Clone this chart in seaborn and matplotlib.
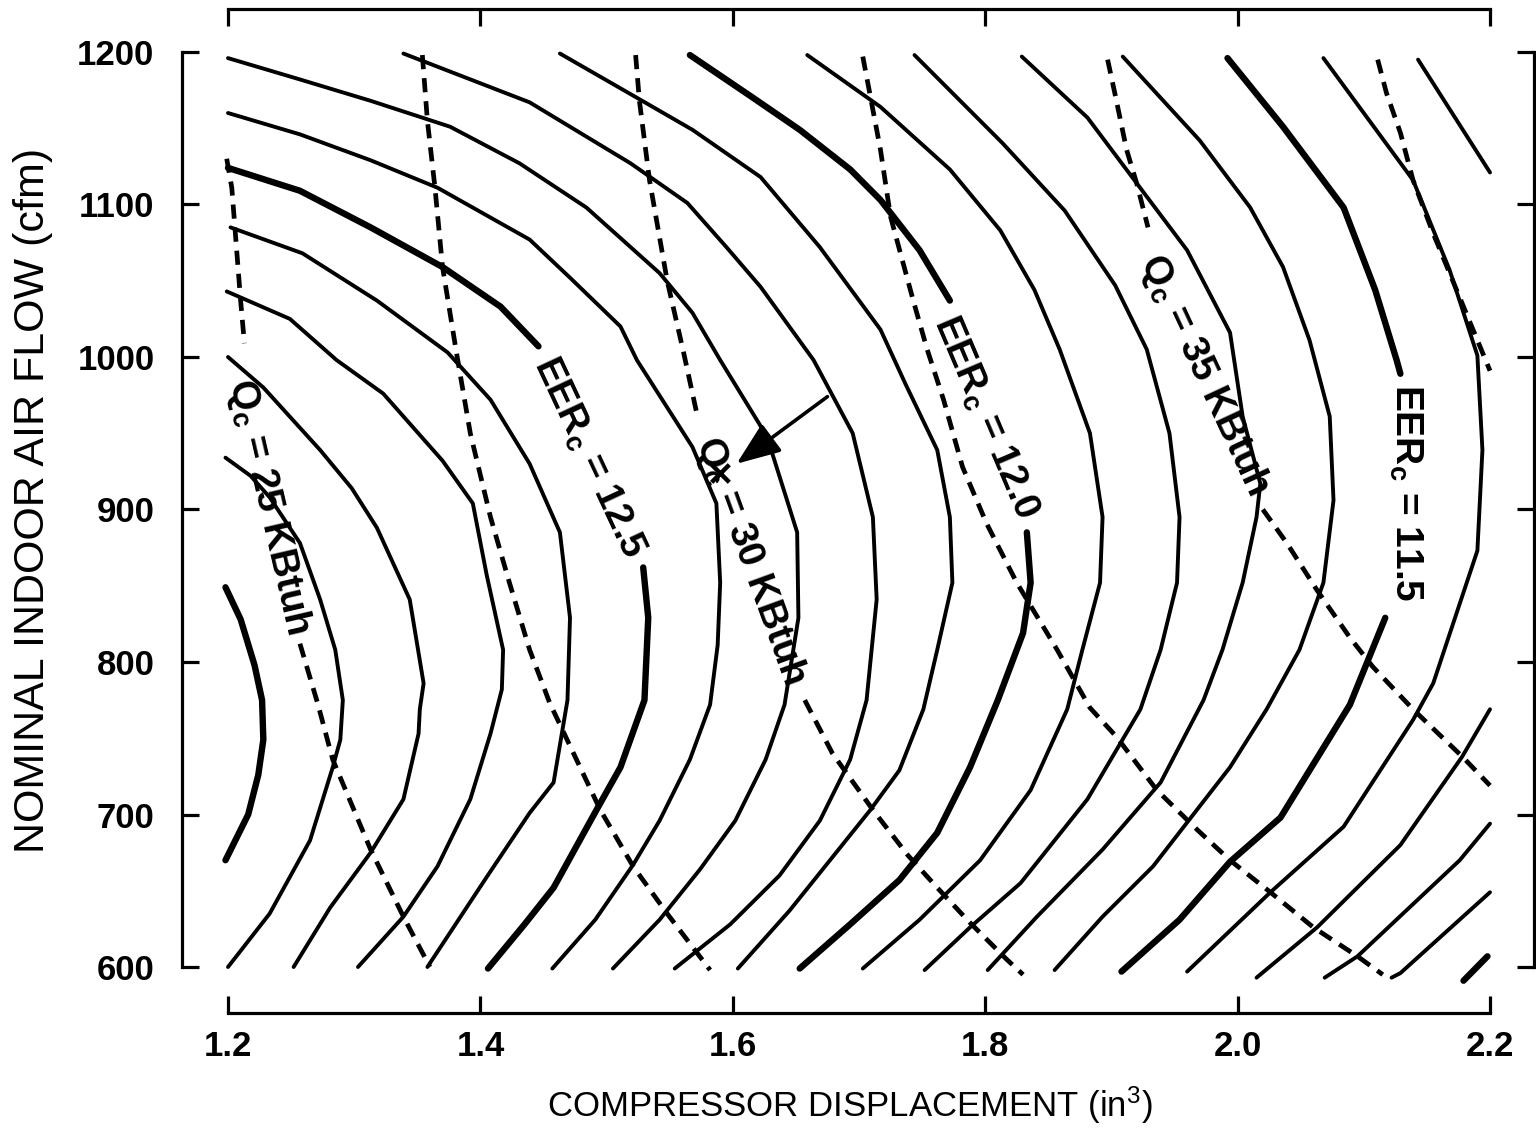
import matplotlib
matplotlib.use("Agg")
import matplotlib.pyplot as plt
import seaborn as sns
import pandas as pd

# ---------------- EER_c contours (solid), 13.0 down to 11.0 by 0.1 ----------------
eer_130_x = [1.198, 1.210, 1.221, 1.227, 1.228, 1.224, 1.216, 1.198]
eer_130_y = [849, 828, 798, 775, 749, 726, 700, 670]

eer_129_x = [1.198, 1.218, 1.233, 1.257, 1.273, 1.285, 1.291, 1.289, 1.283, 1.265, 1.233, 1.200]
eer_129_y = [934, 922, 908, 878, 841, 808, 775, 749, 731, 683, 635, 600]

eer_128_x = [1.200, 1.228, 1.273, 1.298, 1.318, 1.344, 1.355, 1.352, 1.351, 1.339, 1.313, 1.281, 1.252]
eer_128_y = [1000, 980, 939, 914, 888, 841, 786, 769, 753, 710, 675, 639, 600]

eer_127_x = [1.199, 1.249, 1.286, 1.323, 1.370, 1.394, 1.405, 1.418, 1.417, 1.408, 1.392, 1.366, 1.339, 1.303]
eer_127_y = [1043, 1025, 998, 976, 932, 904, 857, 808, 782, 753, 710, 666, 633, 600]

eer_126_x = [1.202, 1.259, 1.318, 1.374, 1.408, 1.439, 1.463, 1.471, 1.469, 1.458, 1.439, 1.405, 1.358]
eer_126_y = [1085, 1068, 1037, 1003, 972, 930, 885, 829, 775, 721, 701, 659, 600]

eer_125a_x = [1.200, 1.257, 1.313, 1.370, 1.416, 1.446]
eer_125a_y = [1124, 1109, 1085, 1059, 1033, 1007]
eer_125b_x = [1.529, 1.533, 1.530, 1.511, 1.492, 1.458, 1.435, 1.406]
eer_125b_y = [862, 829, 775, 731, 703, 652, 628, 599]

eer_124_x = [1.200, 1.257, 1.313, 1.366, 1.439, 1.471, 1.511, 1.524, 1.568, 1.587, 1.590, 1.588, 1.582, 1.566, 1.542, 1.521, 1.491, 1.457]
eer_124_y = [1160, 1146, 1129, 1111, 1077, 1052, 1020, 998, 941, 904, 852, 811, 772, 736, 696, 667, 631, 599]

eer_123_x = [1.200, 1.257, 1.313, 1.376, 1.431, 1.484, 1.542, 1.568, 1.590, 1.627, 1.651, 1.652, 1.641, 1.626, 1.602, 1.574, 1.542, 1.505]
eer_123_y = [1196, 1182, 1168, 1151, 1127, 1098, 1055, 1029, 998, 948, 885, 829, 772, 736, 696, 664, 631, 599]

eer_122_x = [1.339, 1.439, 1.519, 1.564, 1.595, 1.622, 1.664, 1.695, 1.711, 1.714, 1.706, 1.693, 1.669, 1.637, 1.598, 1.554]
eer_122_y = [1199, 1167, 1127, 1101, 1072, 1046, 998, 950, 895, 841, 775, 736, 696, 660, 628, 599]

eer_121_x = [1.463, 1.524, 1.568, 1.622, 1.669, 1.717, 1.737, 1.762, 1.772, 1.774, 1.762, 1.751, 1.732, 1.709, 1.677, 1.645, 1.604]
eer_121_y = [1199, 1170, 1149, 1118, 1072, 1018, 982, 939, 895, 852, 808, 769, 729, 703, 670, 637, 599]

eer_120a_x = [1.566, 1.616, 1.653, 1.693, 1.717, 1.748, 1.772]
eer_120a_y = [1198, 1170, 1149, 1123, 1103, 1070, 1037]
eer_120b_x = [1.833, 1.836, 1.830, 1.810, 1.788, 1.762, 1.732, 1.693, 1.653]
eer_120b_y = [885, 852, 819, 775, 731, 688, 657, 628, 599]

eer_119_x = [1.659, 1.717, 1.772, 1.812, 1.839, 1.859, 1.883, 1.893, 1.891, 1.877, 1.865, 1.836, 1.796, 1.748, 1.703]
eer_119_y = [1198, 1164, 1123, 1083, 1044, 1005, 950, 895, 852, 808, 769, 716, 670, 631, 599]

eer_118_x = [1.744, 1.814, 1.863, 1.903, 1.928, 1.946, 1.954, 1.952, 1.939, 1.923, 1.881, 1.828, 1.788, 1.752]
eer_118_y = [1198, 1140, 1096, 1047, 1005, 950, 895, 852, 808, 769, 710, 655, 626, 598]

eer_117_x = [1.829, 1.881, 1.920, 1.960, 1.994, 2.004, 2.018, 2.015, 2.004, 1.988, 1.973, 1.939, 1.893, 1.841, 1.802]
eer_117_y = [1197, 1157, 1114, 1070, 1016, 961, 917, 895, 852, 808, 775, 721, 677, 633, 598]

eer_116_x = [1.909, 1.970, 2.010, 2.036, 2.057, 2.073, 2.076, 2.068, 2.049, 2.023, 1.994, 1.933, 1.893, 1.855]
eer_116_y = [1197, 1142, 1098, 1059, 1011, 961, 906, 852, 808, 769, 731, 666, 633, 598]

eer_115a_x = [1.992, 2.036, 2.084, 2.109, 2.126, 2.129]
eer_115a_y = [1196, 1151, 1098, 1044, 998, 989]
eer_115b_x = [2.117, 2.089, 2.034, 1.994, 1.954, 1.908]
eer_115b_y = [829, 772, 698, 669, 631, 597]

eer_114_x = [2.068, 2.139, 2.168, 2.190, 2.194, 2.190, 2.155, 2.139, 2.084, 2.026, 1.960]
eer_114_y = [1196, 1116, 1057, 1001, 939, 873, 786, 762, 692, 649, 597]

eer_113a_x = [2.143, 2.200]
eer_113a_y = [1195, 1121]
eer_113b_x = [2.200, 2.178, 2.129, 2.063, 2.015]
eer_113b_y = [769, 738, 680, 626, 593]

eer_112_x = [2.200, 2.176, 2.095, 2.069]
eer_112_y = [694, 670, 607, 593]

eer_111_x = [2.200, 2.129, 2.122]
eer_111_y = [649, 596, 593]

eer_110_x = [2.198, 2.179]
eer_110_y = [607, 591]

# ---------------- Q_c contours (dashed), KBtuh ----------------
qc_250a_x = [1.199, 1.203, 1.210, 1.213]
qc_250a_y = [1130, 1111, 1037, 1009]
qc_250b_x = [1.257, 1.271, 1.283, 1.313, 1.339, 1.360]
qc_250b_y = [812, 773, 736, 677, 633, 600]

qc_275_x = [1.354, 1.358, 1.364, 1.370, 1.381, 1.392, 1.408, 1.423, 1.439, 1.455, 1.495, 1.521, 1.548, 1.582]
qc_275_y = [1198, 1155, 1111, 1059, 1003, 950, 895, 852, 808, 773, 703, 666, 635, 598]

qc_300a_x = [1.523, 1.526, 1.534, 1.548, 1.561, 1.572]
qc_300a_y = [1198, 1168, 1116, 1050, 1003, 961]
qc_300b_x = [1.657, 1.679, 1.711, 1.739, 1.762, 1.788, 1.817, 1.830]
qc_300b_y = [775, 740, 703, 673, 652, 629, 605, 595]

qc_325_x = [1.703, 1.717, 1.725, 1.743, 1.754, 1.767, 1.782, 1.801, 1.825, 1.857, 1.883, 1.904,
            1.936, 1.968, 1.994, 2.026, 2.060, 2.095, 2.115]
qc_325_y = [1197, 1136, 1092, 1037, 1005, 972, 928, 891, 852, 808, 770, 751,
            716, 690, 670, 649, 626, 607, 595]

qc_350a_x = [1.897, 1.904, 1.912, 1.920, 1.929]
qc_350a_y = [1195, 1168, 1136, 1114, 1085]
qc_350b_x = [2.020, 2.039, 2.063, 2.089, 2.107, 2.139, 2.178, 2.200]
qc_350b_y = [900, 878, 847, 816, 797, 769, 738, 719]

qc_375_x = [2.111, 2.118, 2.129, 2.139, 2.155, 2.171, 2.194, 2.200]
qc_375_y = [1195, 1173, 1147, 1116, 1081, 1049, 1003, 991]

# optimum point marked with an x
opt_x = [1.590]
opt_y = [924]

x_ticks = [1.2, 1.4, 1.6, 1.8, 2.0, 2.2]
x_tick_labels = ["1.2", "1.4", "1.6", "1.8", "2.0", "2.2"]
y_ticks = [600, 700, 800, 900, 1000, 1100, 1200]
y_tick_labels = ["600", "700", "800", "900", "1000", "1100", "1200"]

segments = [
    (eer_130_x, eer_130_y, "thick"), (eer_129_x, eer_129_y, "thin"),
    (eer_128_x, eer_128_y, "thin"), (eer_127_x, eer_127_y, "thin"),
    (eer_126_x, eer_126_y, "thin"), (eer_125a_x, eer_125a_y, "thick"),
    (eer_125b_x, eer_125b_y, "thick"), (eer_124_x, eer_124_y, "thin"),
    (eer_123_x, eer_123_y, "thin"), (eer_122_x, eer_122_y, "thin"),
    (eer_121_x, eer_121_y, "thin"), (eer_120a_x, eer_120a_y, "thick"),
    (eer_120b_x, eer_120b_y, "thick"), (eer_119_x, eer_119_y, "thin"),
    (eer_118_x, eer_118_y, "thin"), (eer_117_x, eer_117_y, "thin"),
    (eer_116_x, eer_116_y, "thin"), (eer_115a_x, eer_115a_y, "thick"),
    (eer_115b_x, eer_115b_y, "thick"), (eer_114_x, eer_114_y, "thin"),
    (eer_113a_x, eer_113a_y, "thin"), (eer_113b_x, eer_113b_y, "thin"),
    (eer_112_x, eer_112_y, "thin"), (eer_111_x, eer_111_y, "thin"),
    (eer_110_x, eer_110_y, "thick"),
    (qc_250a_x, qc_250a_y, "dash"), (qc_250b_x, qc_250b_y, "dash"),
    (qc_275_x, qc_275_y, "dash"),
    (qc_300a_x, qc_300a_y, "dash"), (qc_300b_x, qc_300b_y, "dash"),
    (qc_325_x, qc_325_y, "dash"),
    (qc_350a_x, qc_350a_y, "dash"), (qc_350b_x, qc_350b_y, "dash"),
    (qc_375_x, qc_375_y, "dash"),
]

styles = {
    "thin": dict(lw=2.8, ls="-", solid_capstyle="round", solid_joinstyle="round"),
    "thick": dict(lw=4.6, ls="-", solid_capstyle="round", solid_joinstyle="round"),
    "dash": dict(lw=3.4, ls=(0, (3.0, 1.9))),
}

sns.set_theme(style="ticks")
plt.rcParams["font.family"] = ["Liberation Sans", "DejaVu Sans"]
plt.rcParams["mathtext.fontset"] = "custom"
plt.rcParams["mathtext.rm"] = "Liberation Sans"
plt.rcParams["mathtext.bf"] = "Liberation Sans:bold"
plt.rcParams["mathtext.it"] = "Liberation Sans:italic"
plt.rcParams["text.color"] = "black"
plt.rcParams["axes.labelcolor"] = "black"
plt.rcParams["xtick.color"] = "black"
plt.rcParams["ytick.color"] = "black"

fig = plt.figure(figsize=(15.36, 11.38), dpi=100)
fig.patch.set_facecolor("white")
ax = fig.add_axes([228 / 1536, 171 / 1138, 1262 / 1536, 915 / 1138])
ax.set_facecolor("white")

for xs, ys, kind in segments:
    df = pd.DataFrame({"x": xs, "y": ys})
    sns.lineplot(data=df, x="x", y="y", sort=False, estimator=None, color="black",
                 ax=ax, clip_on=False, **styles[kind])

sns.scatterplot(x=opt_x, y=opt_y, marker="x", s=160, color="black", linewidth=3.2,
                ax=ax, clip_on=False, zorder=5)
ax.annotate("", xy=(1.603, 930), xytext=(1.675, 974),
            arrowprops=dict(arrowstyle="-|>,head_length=0.9,head_width=0.35",
                            lw=2.6, color="black", mutation_scale=30,
                            shrinkA=0, shrinkB=0))

labels = [
    ("Q$_\\mathbf{c}$ = 25 KBtuh", 1.232, 902, -77),
    ("EER$_\\mathbf{c}$ = 12.5", 1.486, 934, -65),
    ("Q$_\\mathbf{c}$ = 30 KBtuh", 1.614, 866, -70),
    ("EER$_\\mathbf{c}$ = 12.0", 1.800, 960, -67),
    ("Q$_\\mathbf{c}$ = 35 KBtuh", 1.974, 988, -65),
    ("EER$_\\mathbf{c}$ = 11.5", 2.133, 911, -90),
]
for txt, lx, ly, rot in labels:
    ax.text(lx, ly, txt, rotation=rot, rotation_mode="anchor", ha="center", va="center",
            fontsize=28, fontweight="bold", color="black")

ax.set_xlim(1.2, 2.2)
ax.set_ylim(600, 1200)

for side, off in [("left", 33), ("bottom", 33), ("top", 31), ("right", 32)]:
    sp = ax.spines[side]
    sp.set_visible(True)
    sp.set_color("black")
    sp.set_linewidth(2.3)
    sp.set_position(("outward", off))
ax.spines["left"].set_bounds(600, 1200)
ax.spines["right"].set_bounds(600, 1200)
ax.spines["top"].set_bounds(1.2, 2.2)
ax.spines["bottom"].set_bounds(1.2, 2.2)

ax.tick_params(axis="both", which="major", direction="in", length=12, width=2.3,
               color="black", labelcolor="black", labelsize=25,
               top=True, right=True, bottom=True, left=True,
               labeltop=False, labelright=False)
ax.tick_params(axis="y", pad=20)
ax.tick_params(axis="x", pad=12)

ax.set_xticks(x_ticks)
ax.set_xticklabels(x_tick_labels)
ax.set_yticks(y_ticks)
ax.set_yticklabels(y_tick_labels)
for lbl in ax.get_xticklabels() + ax.get_yticklabels():
    lbl.set_fontweight("bold")
    lbl.set_fontsize(25)

ax.set_xlabel("COMPRESSOR DISPLACEMENT (in$^\\mathregular{3}$)", fontsize=25, color="black")
ax.set_ylabel("NOMINAL INDOOR AIR FLOW (cfm)", fontsize=31, color="black")
ax.xaxis.set_label_coords(0.493, -0.128)
ax.yaxis.set_label_coords(-0.139, 0.51)

fig.savefig("out.png", dpi=100, facecolor="white")
